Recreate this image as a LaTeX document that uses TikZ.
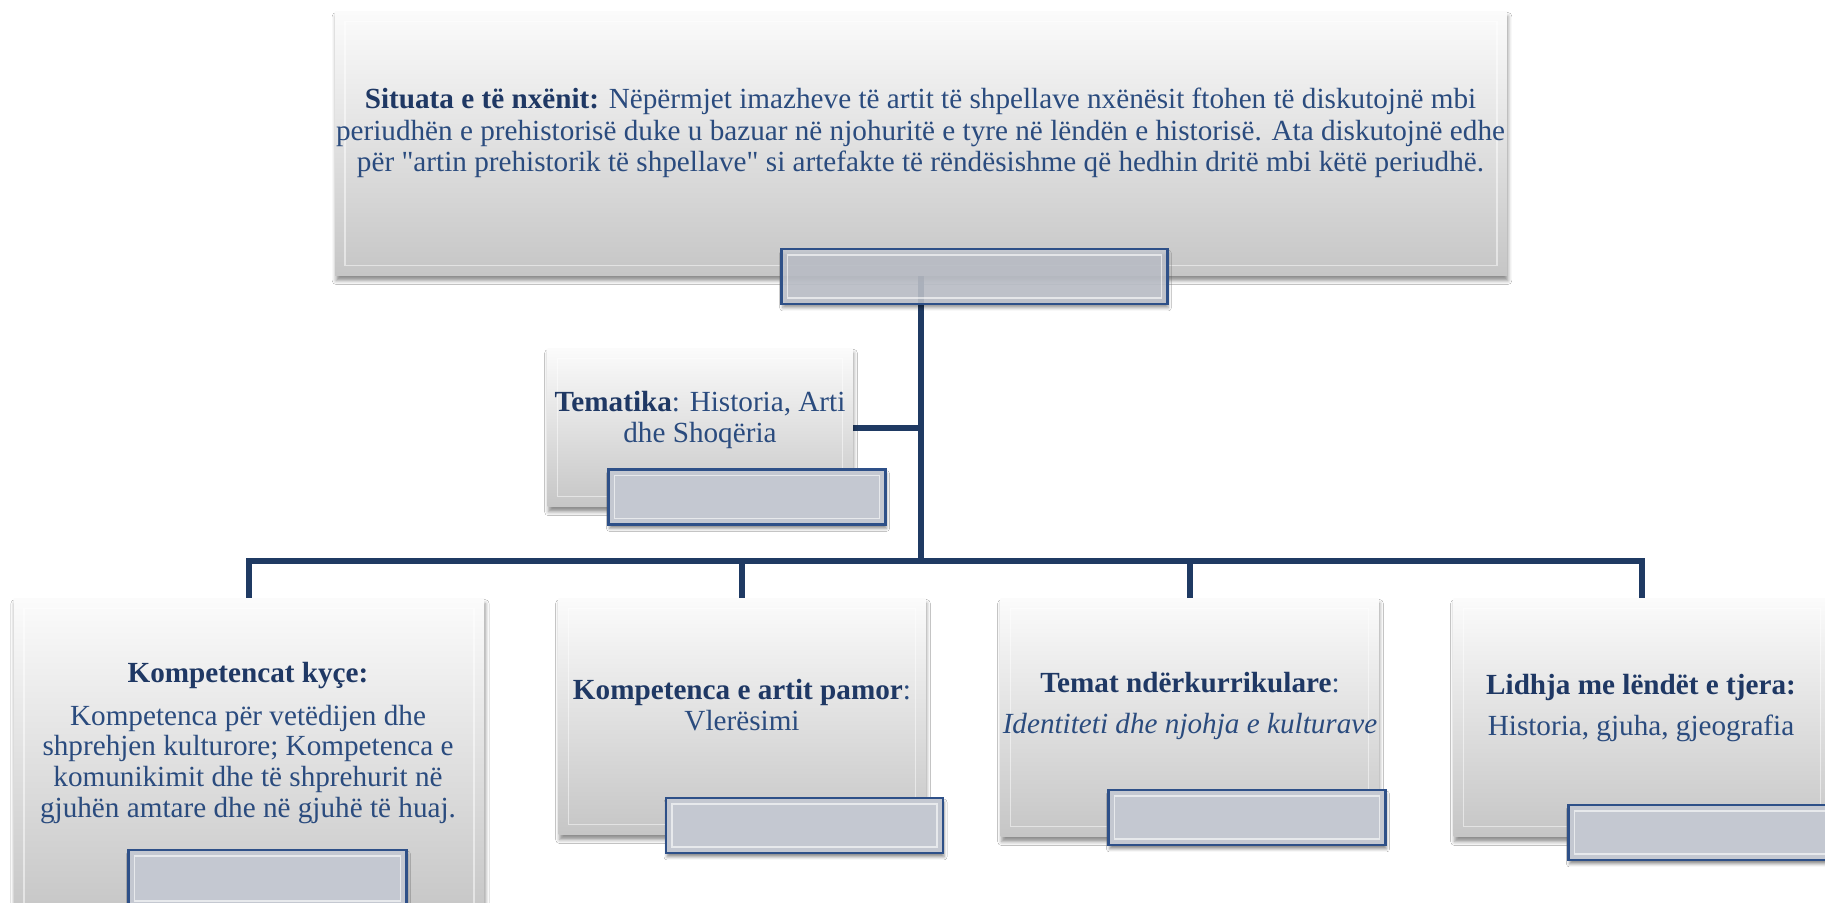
\documentclass[tikz,border=0pt]{standalone}
\usepackage{fontspec}
\setmainfont{Liberation Serif}[Ligatures=TeXOff]
\usetikzlibrary{backgrounds,shadows.blur}
\definecolor{navy}{HTML}{1F3864}
\definecolor{steel}{HTML}{2A4B7E}
\definecolor{trunkc}{HTML}{1F3A63}
\definecolor{tabfill}{HTML}{C4C8D1}
\definecolor{tabedge}{HTML}{2E5088}
\newcommand{\bodyfont}{\fontsize{29.3}{31}\selectfont}
\newcommand{\hd}[1]{\textbf{\color{navy}#1}}
\tikzset{
  every node/.style={font=\bodyfont,text=steel,inner sep=0pt,outer sep=0pt},
  panel/.style={top color=gray!3,bottom color=gray!45,
    blur shadow={shadow xshift=1bp,shadow yshift=-5bp,shadow blur radius=4bp,shadow opacity=45},
    path picture={\draw[white,opacity=.5,line width=1.5bp]
      ([xshift=10bp,yshift=-10bp]path picture bounding box.north west) rectangle
      ([xshift=-10bp,yshift=10bp]path picture bounding box.south east);}},
  tab/.style={fill=tabfill,draw=tabedge,line width=2.5bp,minimum width=278,minimum height=55,
    blur shadow={shadow xshift=1bp,shadow yshift=-4bp,shadow blur radius=3bp,shadow opacity=45},
    path picture={\draw[white,opacity=.6,line width=1.5bp]
      ([xshift=6bp,yshift=-6bp]path picture bounding box.north west) rectangle
      ([xshift=-6bp,yshift=6bp]path picture bounding box.south east);}},
  trunk/.style={draw=trunkc,line width=6bp},
  blurb/.style={align=center}
}

\begin{document}
\begin{tikzpicture}[x=1bp,y=-1bp]

\path[use as bounding box] (0,0) rectangle (1825,903);
\clip (0,0) rectangle (1825,903);

% Panels, top to bottom, then the tabs that sit on their lower edge.
\node[panel,minimum width=1176,minimum height=265] (top) at (921,143.5) {};
\node[panel,minimum width=306,minimum height=159] (tem) at (700,427.5) {};
\node[panel,minimum width=472,minimum height=320] (kyce) at (249,758) {};
\node[panel,minimum width=368,minimum height=237] (pamor) at (742,716.5) {};
\node[panel,minimum width=379,minimum height=239] (temat) at (1189.5,717.5) {};
\node[panel,minimum width=378,minimum height=239] (lidhje) at (1642,717.5) {};

\node[blurb,font=\fontsize{29.3}{31.5}\selectfont] (toptext) at (920.5,133) {\hd{Situata e të nxënit:} Nëpërmjet imazheve të artit të shpellave nxënësit ftohen të diskutojnë mbi\\
  periudhën e prehistorisë duke u bazuar në njohuritë e tyre në lëndën e historisë. Ata diskutojnë edhe\\
  për "artin prehistorik të shpellave" si artefakte të rëndësishme që hedhin dritë mbi këtë periudhë.};
\node[blurb] (temtext) at (700,420) {\hd{Tematika}: Historia, Arti\\ dhe Shoqëria};
\node[blurb] (kycetext) at (248,743) {\hd{Kompetencat kyçe:}\\[12bp]
  Kompetenca për vetëdijen dhe\\ shprehjen kulturore; Kompetenca e\\
  komunikimit dhe të shprehurit në\\ gjuhën amtare dhe në gjuhë të huaj.};
\node[blurb] (pamortext) at (742,705) {\hd{Kompetenca e artit pamor}:\\ Vlerësimi};
\node[blurb] (temattext) at (1190,706) {\hd{Temat ndërkurrikulare}:\\[10bp] \textit{Identiteti dhe njohja e kulturave}};
\node[blurb] (lidhjetext) at (1641,708) {\hd{Lidhja me lëndët e tjera:}\\[10bp] Historia, gjuha, gjeografia};

\node[tab,minimum width=387,minimum height=55,fill opacity=.86] (toptab) at (974.5,276.5) {};
\node[tab] (temtab) at (747,497) {};
\node[tab,minimum width=279,minimum height=57] (kycetab) at (267.5,878.5) {};
\node[tab] (pamortab) at (804.5,825.5) {};
\node[tab] (temattab) at (1247,817.5) {};
\node[tab] (lidhjetab) at (1707,832.5) {};

\coordinate (hub) at (921,561);
\begin{scope}[on background layer]
\fill[white] (0,0) rectangle (1825,903);
\draw[trunk] (top.south) -- (hub);
\draw[trunk] (tem.east) -- (tem.east -| hub);
\draw[trunk] (kyce.north) -- (kyce.north |- hub) -- (lidhje.north |- hub) -- (lidhje.north);
\draw[trunk] (pamor.north) -- (pamor.north |- hub);
\draw[trunk] (temat.north) -- (temat.north |- hub);
\end{scope}
\end{tikzpicture}
\end{document}
